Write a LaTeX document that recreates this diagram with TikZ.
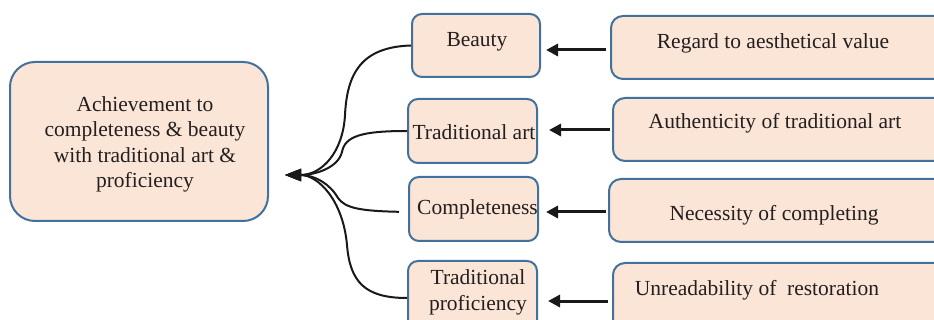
\documentclass[tikz,border=0pt]{standalone}
\usepackage{fontspec}
\setmainfont{Liberation Serif}
\usetikzlibrary{arrows.meta,calc}
\definecolor{boxfill}{HTML}{FBE5D6}
\definecolor{boxline}{HTML}{41719C}
\definecolor{txt}{HTML}{231F20}
\begin{document}
\begin{tikzpicture}[x=1pt,y=-1pt,
  box/.style={draw=boxline, line width=2pt, fill=boxfill, rounded corners=10pt, inner sep=0pt},
  lbl/.style={font=\fontsize{21.5}{25.5}\selectfont, text=txt, inner sep=0pt, align=center, anchor=base},
  link/.style={line width=2pt, draw=black!90, -{Triangle[length=16pt,width=12pt]}},
  push/.style={line width=3pt, draw=black!90, -{Triangle[length=12pt,width=12pt]}}]
\useasboundingbox (0,0) rectangle (934,320);
\clip (0,0) rectangle (934,320);
% boxes
\node[box, rounded corners=25pt, minimum width=258pt, minimum height=159pt] (main) at (139,141.5) {};
\node[box, minimum width=128pt, minimum height=63pt] (beauty) at (476,45.5) {};
\node[box, minimum width=129pt, minimum height=64pt] (tradart) at (472.5,131) {};
\node[box, minimum width=129pt, minimum height=64pt] (compl) at (473.5,209) {};
\node[box, minimum width=129pt, minimum height=79pt] (tradprof) at (472.5,300.5) {};
\node[box, rounded corners=12pt, minimum width=339pt, minimum height=63pt] (regard) at (780.5,47.5) {};
\node[box, rounded corners=12pt, minimum width=337pt, minimum height=63pt] (auth) at (781.5,129.5) {};
\node[box, rounded corners=12pt, minimum width=341pt, minimum height=63pt] (need) at (779.5,210.5) {};
\node[box, rounded corners=12pt, minimum width=337pt, minimum height=77pt] (unread) at (781.5,301.5) {};
% texts (multi-line nodes are placed by the baseline of their last line)
\node[lbl] (mainT) at (145,188) {Achievement to\\completeness \& beauty\\with traditional art \&\\proficiency};
\node[lbl] (beautyT) at (477,47) {Beauty};
\node[lbl] (tradartT) at (474,140) {Traditional art};
\node[lbl] (complT) at (477.5,215) {Completeness};
\node[lbl] (tradprofT) at (478,310) {Traditional\\proficiency};
\node[lbl] (regardT) at (773,49) {Regard to aesthetical value};
\node[lbl] (authT) at (775,129) {Authenticity of traditional art};
\node[lbl] (needT) at (774,221) {Necessity of completing};
\node[lbl] (unreadT) at (757,295) {Unreadability of\ \ restoration};
% levels
\coordinate (tip) at (285,175);
\coordinate (y1) at (0,50);
\coordinate (y2) at (0,130);
\coordinate (y3) at (0,212);
\coordinate (y4) at (0,301);
\coordinate (yc) at (0,212);
\coordinate (yp) at (0,298);
% straight arrows
\draw[push, shorten <=4pt, shorten >=5pt] (regard.west |- y1) -- (beauty.east |- y1);
\draw[push, shorten <=2pt, shorten >=11pt] (auth.west |- y2) -- (tradart.east |- y2);
\draw[push, shorten <=2pt, shorten >=7pt] (need.west |- y3) -- (compl.east |- y3);
\draw[push, shorten <=4pt, shorten >=10pt] (unread.west |- y4) -- (tradprof.east |- y4);
% curved connectors
\draw[link] (beauty.west) .. controls (360,47) and (347,75) .. (345,115) .. controls (343,152) and (322,175) .. (tip);
\draw[link] (tradart.west) .. controls (362,131) and (345,136) .. (342,152) .. controls (338,168) and (315,175) .. (tip);
\draw[link, shorten <=9pt] (compl.west |- yc) .. controls (360,211) and (345,208) .. (338,198) .. controls (330,184) and (315,175) .. (tip);
\draw[link] (tradprof.west |- yp) .. controls (365,298) and (350,282) .. (347,245) .. controls (343,200) and (318,175) .. (tip);
\end{tikzpicture}
\end{document}
